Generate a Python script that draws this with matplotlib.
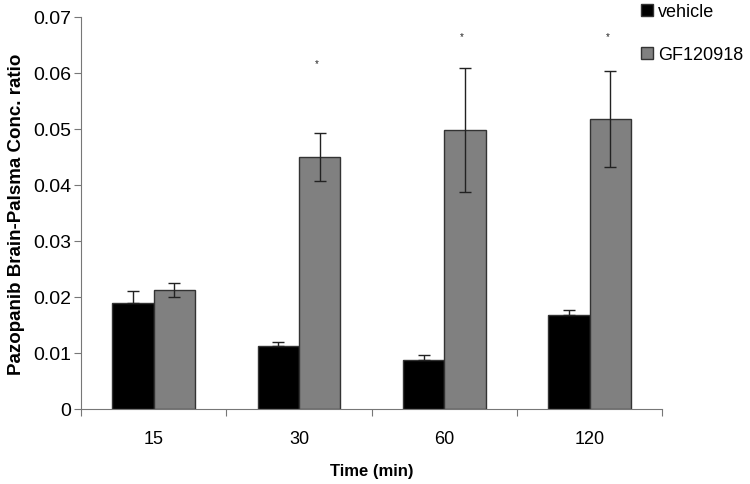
import matplotlib
matplotlib.use('Agg')
import matplotlib.pyplot as plt
import numpy as np

plt.rcParams['font.family'] = ['Liberation Sans', 'DejaVu Sans']

times = ['15', '30', '60', '120']
vehicle = [0.0189, 0.0113, 0.0087, 0.0167]
vehicle_err = [0.0022, 0.0006, 0.0009, 0.0009]
gf = [0.0212, 0.0450, 0.0498, 0.0518]
gf_err = [0.0012, 0.0043, 0.0111, 0.0086]
stars = ['', '*', '*', '*']

fig = plt.figure(figsize=(7.5, 4.85), dpi=100)
ax = fig.add_axes([0.108, 0.155, 0.775, 0.808])

x = np.arange(len(times))
w = 0.285
ekw = dict(ecolor='#222222', elinewidth=1, capsize=4, capthick=1)
# vehicle bars only show the upper half of the error bar
ax.bar(x - w/2, vehicle, w, yerr=[[0] * len(vehicle), vehicle_err], color='black',
       edgecolor='#333333', linewidth=1, label='vehicle', error_kw=ekw)
ax.bar(x + w/2, gf, w, yerr=gf_err, color='#808080', edgecolor='#333333',
       linewidth=1, label='GF120918', error_kw=ekw)

for i, s in enumerate(stars):
    if s:
        top = gf[i] + gf_err[i]
        ax.text(x[i] + w/2 - 0.02, min(top + 0.0125, 0.0665), s, ha='center', va='center',
                fontsize=7, color='#222222')

ax.set_xlim(-0.5, len(times) - 0.5)
ax.set_ylim(0, 0.07)
ax.set_yticks(np.arange(0, 0.071, 0.01))
ax.set_yticklabels(['0'] + ['%.2f' % v for v in np.arange(0.01, 0.071, 0.01)])
ax.set_xticks(np.arange(-0.5, len(times)), labels=[''] * (len(times) + 1))
ax.set_xticks(x, labels=times, minor=True)
ax.tick_params(axis='x', which='minor', length=0, pad=15, labelsize=13)
ax.tick_params(axis='x', which='major', length=5, direction='out', color='#777777')
ax.tick_params(axis='y', length=5, direction='out', color='#777777', labelsize=14, pad=2)

for side in ['top', 'right']:
    ax.spines[side].set_visible(False)
for side in ['left', 'bottom']:
    ax.spines[side].set_color('#777777')

ax.set_xlabel('Time (min)', fontsize=12, fontweight='bold', labelpad=12)
ax.set_ylabel('Pazopanib Brain-Palsma Conc. ratio', fontsize=13.5, fontweight='bold', labelpad=6)

ax.legend(loc='upper left', bbox_to_anchor=(641 / 750, 1 - 4 / 485), bbox_transform=fig.transFigure,
          frameon=False, fontsize=13, borderpad=0, borderaxespad=0,
          handlelength=0.65, handleheight=0.65, handletextpad=0.3, labelspacing=1.45)

fig.savefig('out.png', dpi=100)
